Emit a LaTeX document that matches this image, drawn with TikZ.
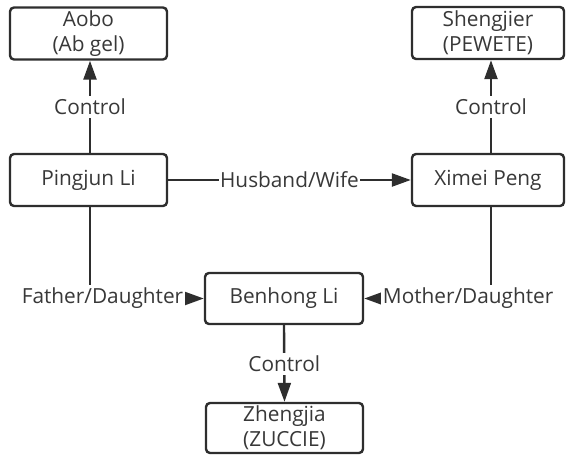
\documentclass[tikz,border=0pt]{standalone}
\usepackage{fontspec}
\setmainfont{Open Sans}
\usetikzlibrary{arrows.meta}
\definecolor{ink}{HTML}{2E2E2E}
\definecolor{txt}{HTML}{383838}
\tikzset{
  box/.style={draw=ink, line width=2.4pt, rounded corners=4pt, fill=white,
    minimum width=157pt, minimum height=52pt, inner sep=0pt, align=center,
    text=txt, font=\fontsize{20.8}{25}\selectfont},
  conn/.style={draw=ink, line width=2.4pt, -{Triangle[length=19pt,width=13pt]}},
  lbl/.style={fill=white, inner xsep=1.5pt, inner ysep=3pt, text=txt,
    font=\fontsize{20.8}{24}\selectfont}
}
\begin{document}
\begin{tikzpicture}[x=1pt,y=-1pt]
\useasboundingbox (0,0) rectangle (566,456);
\node[box] (aobo) at (88.5,33.5) {Aobo\\(Ab gel)};
\node[box] (pingjun) at (88.5,180) {Pingjun Li};
\node[box, minimum width=152pt] (sheng) at (488,33) {Shengjier\\(PEWETE)};
\node[box, minimum width=152pt] (ximei) at (488,180) {Ximei Peng};
\node[box, minimum height=51pt, minimum width=158pt] (benhong) at (284,298.5) {Benhong Li};
\node[box, minimum height=50pt] (zheng) at (284.5,428) {Zhengjia\\(ZUCCIE)};

\draw[conn] (pingjun.north -| 90,0) -- node[lbl] {Control} (aobo.south -| 90,0);
\draw[conn] (ximei.north -| 491,0) -- node[lbl] {Control} (sheng.south -| 491,0);
\draw[conn] (pingjun.east) -- node[lbl] {Husband/Wife} (ximei.west);
\draw[conn] (pingjun.south -| 90,0) |- node[lbl, pos=0.555] {Father/Daughter} (benhong.west);
\draw[conn] (ximei.south -| 491,0) |- node[lbl, pos=0.59] {Mother/Daughter} (benhong.east);
\draw[conn] (benhong.south) -- node[lbl] {Control} (zheng.north);
\end{tikzpicture}
\end{document}
